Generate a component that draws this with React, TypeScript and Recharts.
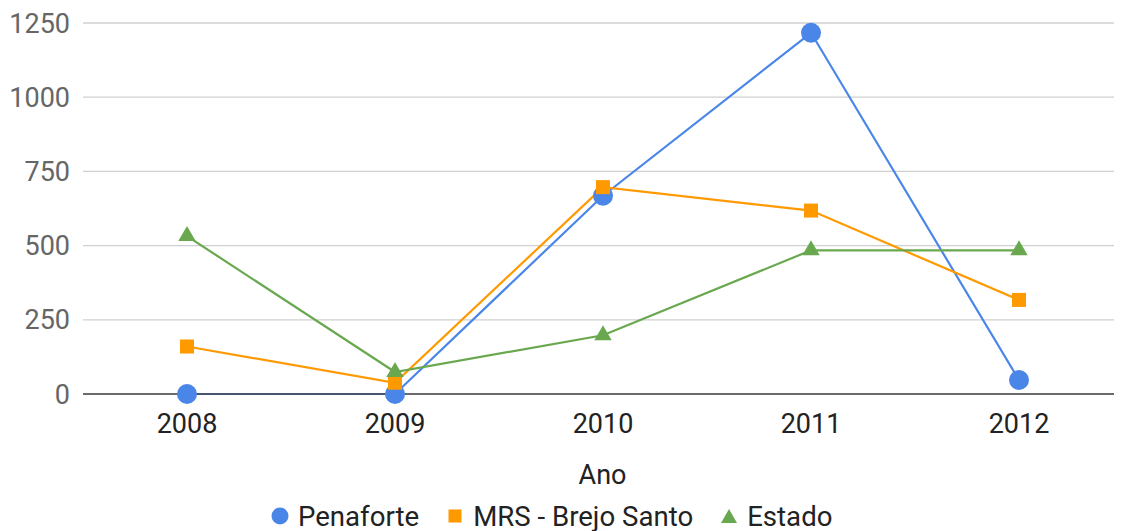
import React from 'react';
import { LineChart, Line, XAxis, YAxis, CartesianGrid, Legend } from 'recharts';

const years = ['2008', '2009', '2010', '2011', '2012'];
const penaforte = [0, 0, 668, 1217, 47];
const mrsBrejoSanto = [160, 38, 697, 618, 317];
const estado = [532, 74, 198, 484, 484];
const yTicks = [0, 250, 500, 750, 1000, 1250];

const seriesNames = ['Penaforte', 'MRS - Brejo Santo', 'Estado'];
const colors = ['#4a86e8', '#ff9900', '#6aa84f'];

const data = years.map((y, i) => ({
  year: y,
  penaforte: penaforte[i],
  mrs: mrsBrejoSanto[i],
  estado: estado[i],
}));

const FONT = 'Roboto, "Noto Sans", sans-serif';

const CircleDot = (props: any) => {
  const { cx, cy } = props;
  if (cx == null || cy == null) return null;
  return <circle cx={cx} cy={cy} r={10} fill={colors[0]} />;
};

const SquareDot = (props: any) => {
  const { cx, cy } = props;
  if (cx == null || cy == null) return null;
  return <rect x={cx - 7} y={cy - 7} width={14} height={14} fill={colors[1]} />;
};

const TriangleDot = (props: any) => {
  const { cx, cy } = props;
  if (cx == null || cy == null) return null;
  return (
    <polygon
      points={`${cx},${cy - 10} ${cx + 8.7},${cy + 5} ${cx - 8.7},${cy + 5}`}
      fill={colors[2]}
    />
  );
};

const AnoLabel = (props: any) => {
  const vb = props.viewBox || {};
  return (
    <text
      x={vb.x + vb.width / 2}
      y={vb.y + 90}
      textAnchor="middle"
      fill="#222"
      fontSize={27}
      fontFamily={FONT}
    >
      Ano
    </text>
  );
};

const LegendContent = () => {
  const marker = (i: number) => {
    if (i === 0)
      return (
        <svg width={18} height={18}>
          <circle cx={9} cy={9} r={8.5} fill={colors[0]} />
        </svg>
      );
    if (i === 1)
      return (
        <svg width={18} height={18}>
          <rect x={2.5} y={2.5} width={13} height={13} fill={colors[1]} />
        </svg>
      );
    return (
      <svg width={18} height={18}>
        <polygon points="9,2 17,16 1,16" fill={colors[2]} />
      </svg>
    );
  };
  return (
    <div
      style={{
        display: 'flex',
        alignItems: 'center',
        marginLeft: 263,
        height: 30,
        fontFamily: FONT,
        fontSize: 27.6,
        color: '#222',
        whiteSpace: 'nowrap',
      }}
    >
      {seriesNames.map((n, i) => (
        <div key={n} style={{ display: 'flex', alignItems: 'center', marginRight: 27 }}>
          {marker(i)}
          <span style={{ marginLeft: 9 }}>{n}</span>
        </div>
      ))}
    </div>
  );
};

export default function App() {
  return (
    <div style={{ width: 1114, height: 523, background: '#fff' }}>
      <LineChart
        width={1114}
        height={523}
        data={data}
        margin={{ top: 15, right: 0, bottom: 0, left: 0 }}
      >
        <CartesianGrid vertical={false} stroke="#d0d0d0" strokeWidth={1.3} />
        <XAxis
          dataKey="year"
          height={107}
          padding={{ left: 104, right: 103 }}
          tickLine={false}
          tickSize={0}
          tickMargin={20}
          axisLine={{ stroke: '#444', strokeWidth: 1.5 }}
          tick={{ fill: '#222', fontSize: 27, fontFamily: FONT }}
          label={<AnoLabel />}
          interval={0}
        />
        <YAxis
          width={75}
          domain={[0, 1250]}
          ticks={yTicks}
          axisLine={false}
          tickLine={false}
          tickSize={0}
          tickMargin={13}
          tick={{ fill: '#666', fontSize: 27, fontFamily: FONT }}
          interval={0}
        />
        <Legend
          verticalAlign="bottom"
          align="left"
          height={30}
          content={<LegendContent />}
          wrapperStyle={{ left: 0, width: 1114, height: 30 }}
        />
        <Line
          dataKey="penaforte"
          name={seriesNames[0]}
          stroke={colors[0]}
          strokeWidth={2.2}
          dot={<CircleDot />}
          activeDot={false}
          isAnimationActive={false}
        />
        <Line
          dataKey="mrs"
          name={seriesNames[1]}
          stroke={colors[1]}
          strokeWidth={2.2}
          dot={<SquareDot />}
          activeDot={false}
          isAnimationActive={false}
        />
        <Line
          dataKey="estado"
          name={seriesNames[2]}
          stroke={colors[2]}
          strokeWidth={2.2}
          dot={<TriangleDot />}
          activeDot={false}
          isAnimationActive={false}
        />
      </LineChart>
    </div>
  );
}
